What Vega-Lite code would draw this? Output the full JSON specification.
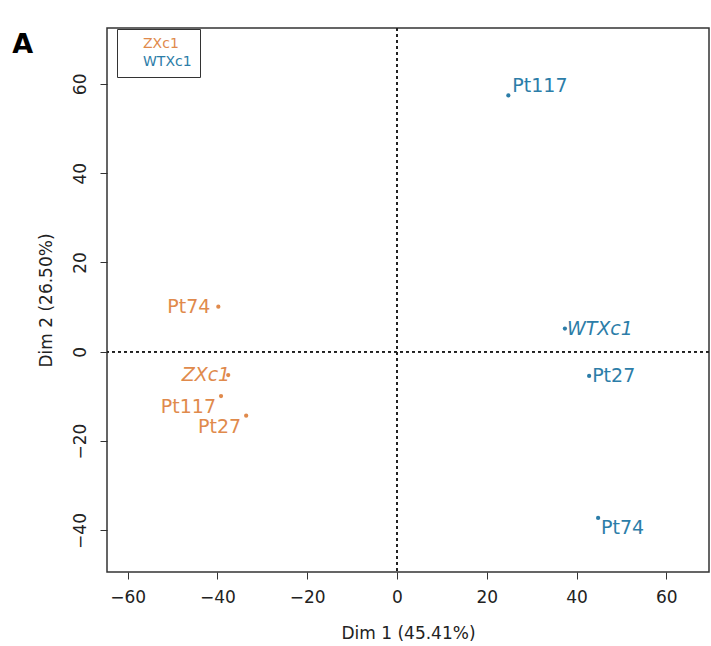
{
  "$schema": "https://vega.github.io/schema/vega-lite/v6.json",
  "width": 602,
  "height": 544,
  "autosize": "none",
  "padding": {"left": 107, "top": 28, "right": 2, "bottom": 74},
  "background": "white",
  "title": {"text": "A", "font": "DejaVu Sans", "fontSize": 27, "fontWeight": "bold", "color": "black", "anchor": "end", "frame": "group", "orient": "left", "angle": 0, "align": "right", "baseline": "top", "offset": 4, "dy": 4, "dx": 21},
  "config": {
    "view": {"stroke": "#333", "strokeWidth": 1.5},
    "font": "DejaVu Sans"
  },
  "data": {"values": [
    {"group": "WTXc1", "name": "Pt117", "pos": "ar", "x": 24.8, "y": 57.4},
    {"group": "WTXc1", "name": "WTXc1", "pos": "ci", "x": 37.4, "y": 5.2},
    {"group": "WTXc1", "name": "Pt27", "pos": "r", "x": 42.8, "y": -5.4},
    {"group": "WTXc1", "name": "Pt74", "pos": "br", "x": 44.8, "y": -37.2},
    {"group": "ZXc1", "name": "Pt74", "pos": "l", "x": -39.8, "y": 10.1},
    {"group": "ZXc1", "name": "ZXc1", "pos": "cl", "x": -37.6, "y": -5.2},
    {"group": "ZXc1", "name": "Pt117", "pos": "bl", "x": -39.2, "y": -9.9},
    {"group": "ZXc1", "name": "Pt27", "pos": "bl", "x": -33.6, "y": -14.3}
  ]},
  "encoding": {
    "x": {"field": "x", "type": "quantitative", "scale": {"domain": [-64.6, 69.5], "nice": false, "zero": false},
      "axis": {"values": [-60, -40, -20, 0, 20, 40, 60], "title": "Dim 1 (45.41%)", "grid": false, "domain": false, "tickColor": "#333", "tickSize": 7, "labelFont": "DejaVu Sans", "labelFontSize": 17, "labelColor": "#222", "labelPadding": 10, "titleFont": "DejaVu Sans", "titleFontSize": 17, "titleFontWeight": "normal", "titleColor": "#222", "titlePadding": 20}},
    "y": {"field": "y", "type": "quantitative", "scale": {"domain": [-49.3, 72.5], "nice": false, "zero": false},
      "axis": {"values": [-40, -20, 0, 20, 40, 60], "title": "Dim 2 (26.50%)", "grid": false, "domain": false, "tickColor": "#333", "tickSize": 7, "labelAngle": -90, "labelAlign": "center", "labelBaseline": "bottom", "labelFont": "DejaVu Sans", "labelFontSize": 17, "labelColor": "#222", "labelPadding": 11, "titleFont": "DejaVu Sans", "titleFontSize": 17, "titleFontWeight": "normal", "titleColor": "#222", "titlePadding": 16}},
    "color": {"field": "group", "type": "nominal", "scale": {"domain": ["ZXc1", "WTXc1"], "range": ["#E08A4C", "#2C7DA8"]},
      "legend": {"title": null, "orient": "none", "legendX": 10, "legendY": 1, "strokeColor": "#333", "fillColor": "white", "padding": 8, "symbolSize": 0, "symbolOpacity": 0, "labelOffset": 4, "labelFont": "DejaVu Sans", "labelFontSize": 14, "rowPadding": 4,
        "encode": {"labels": {"update": {"fill": {"signal": "datum.value === 'ZXc1' ? '#E08A4C' : '#2C7DA8'"}}}}}}
  },
  "layer": [
    {"mark": {"type": "rule", "strokeDash": [3, 3], "color": "#222", "strokeWidth": 1}, "encoding": {"x": {"datum": 0}, "y": null, "color": null}},
    {"mark": {"type": "rule", "strokeDash": [3, 3], "color": "#222", "strokeWidth": 1}, "encoding": {"y": {"datum": 0}, "x": null, "color": null}},
    {"mark": {"type": "circle", "size": 18, "opacity": 1}},
    {"transform": [{"filter": "datum.pos === 'l'"}], "mark": {"type": "text", "align": "right", "baseline": "middle", "dx": -8, "fontSize": 19}, "encoding": {"text": {"field": "name"}}},
    {"transform": [{"filter": "datum.pos === 'cl'"}], "mark": {"type": "text", "align": "right", "baseline": "middle", "dx": 2, "fontSize": 19, "fontStyle": "italic"}, "encoding": {"text": {"field": "name"}}},
    {"transform": [{"filter": "datum.pos === 'bl'"}], "mark": {"type": "text", "align": "right", "baseline": "middle", "dx": -5, "dy": 11, "fontSize": 19}, "encoding": {"text": {"field": "name"}}},
    {"transform": [{"filter": "datum.pos === 'ar'"}], "mark": {"type": "text", "align": "left", "baseline": "middle", "dx": 4, "dy": -9, "fontSize": 19}, "encoding": {"text": {"field": "name"}}},
    {"transform": [{"filter": "datum.pos === 'ci'"}], "mark": {"type": "text", "align": "left", "baseline": "middle", "dx": 2, "fontSize": 19, "fontStyle": "italic"}, "encoding": {"text": {"field": "name"}}},
    {"transform": [{"filter": "datum.pos === 'r'"}], "mark": {"type": "text", "align": "left", "baseline": "middle", "dx": 3, "fontSize": 19}, "encoding": {"text": {"field": "name"}}},
    {"transform": [{"filter": "datum.pos === 'br'"}], "mark": {"type": "text", "align": "left", "baseline": "middle", "dx": 3, "dy": 10, "fontSize": 19}, "encoding": {"text": {"field": "name"}}}
  ]
}
